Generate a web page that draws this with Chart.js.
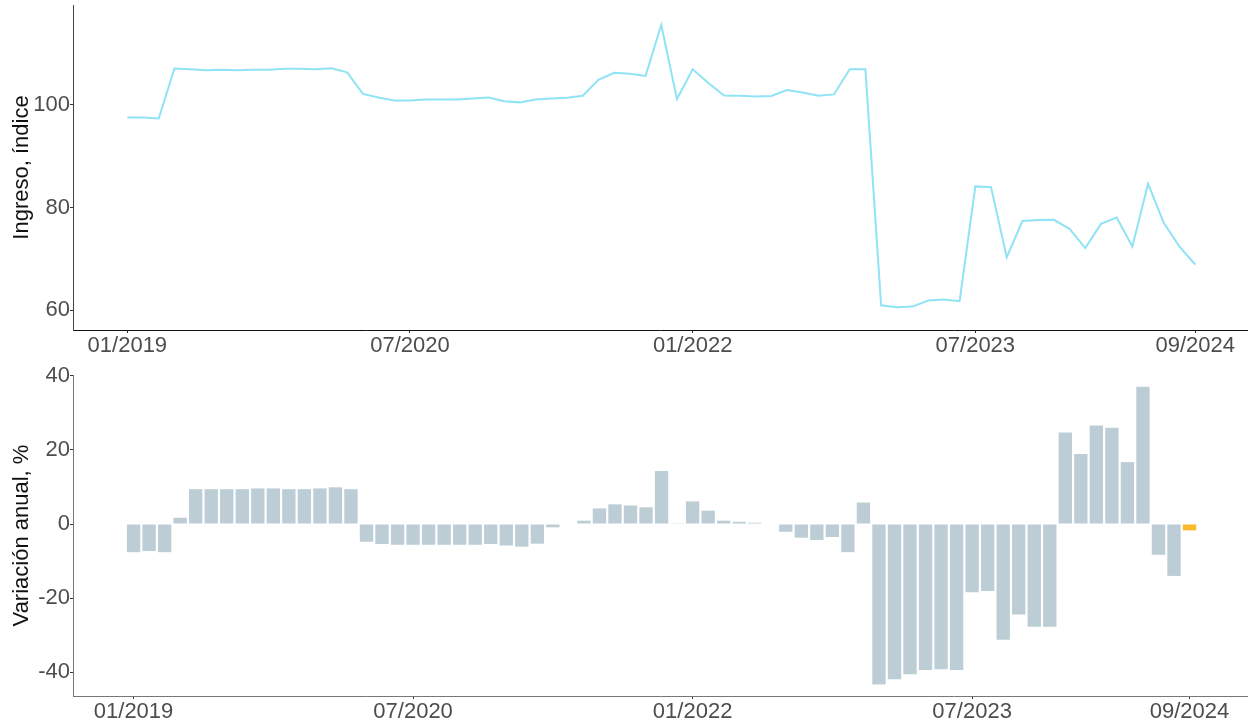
<!DOCTYPE html>
<html>
<head>
<meta charset="utf-8">
<script src="https://cdn.jsdelivr.net/npm/chart.js@4.4.1/dist/chart.umd.min.js"></script>
<style>
  body { margin: 0; background: #fff; }
  canvas { display: block; }
</style>
</head>
<body>
<canvas id="ingresoChart" width="1249" height="360"></canvas>
<canvas id="variacionChart" width="1249" height="366"></canvas>
<script>
const months = [
  '01/2019','02/2019','03/2019','04/2019','05/2019','06/2019','07/2019','08/2019','09/2019','10/2019','11/2019','12/2019',
  '01/2020','02/2020','03/2020','04/2020','05/2020','06/2020','07/2020','08/2020','09/2020','10/2020','11/2020','12/2020',
  '01/2021','02/2021','03/2021','04/2021','05/2021','06/2021','07/2021','08/2021','09/2021','10/2021','11/2021','12/2021',
  '01/2022','02/2022','03/2022','04/2022','05/2022','06/2022','07/2022','08/2022','09/2022','10/2022','11/2022','12/2022',
  '01/2023','02/2023','03/2023','04/2023','05/2023','06/2023','07/2023','08/2023','09/2023','10/2023','11/2023','12/2023',
  '01/2024','02/2024','03/2024','04/2024','05/2024','06/2024','07/2024','08/2024','09/2024'
];
const tickLabels = ['01/2019', '07/2020', '01/2022', '07/2023', '09/2024'];

const ingreso = [
  97.5, 97.5, 97.3, 107.05, 106.9, 106.7, 106.8, 106.7, 106.8, 106.8, 107.0, 107.0,
  106.9, 107.1, 106.3, 102.1, 101.4, 100.8, 100.8, 101.0, 101.0, 101.0, 101.2, 101.4,
  100.65, 100.45, 101.0, 101.2, 101.35, 101.75, 104.85, 106.2, 106.0, 105.6, 115.5, 101.1,
  106.9, 104.2, 101.8, 101.75, 101.6, 101.7, 102.85, 102.35, 101.75, 102.0, 106.9, 106.9,
  60.97, 60.6, 60.7, 61.9, 62.1, 61.75, 84.1, 83.95, 70.3, 77.35, 77.55, 77.6,
  75.85, 72.1, 76.8, 78.05, 72.4, 84.6, 77.0, 72.35, 68.9
];
const variacion = [
  -7.6, -7.3, -7.6, 1.7, 9.4, 9.4, 9.4, 9.4, 9.6, 9.6, 9.4, 9.4,
  9.6, 9.9, 9.4, -4.8, -5.4, -5.6, -5.6, -5.6, -5.6, -5.6, -5.6, -5.4,
  -5.8, -6.1, -5.3, -0.9, 0, 0.9, 4.2, 5.3, 5.0, 4.5, 14.3, 0.2,
  6.1, 3.6, 0.9, 0.6, 0.35, 0.15, -2.1, -3.7, -4.3, -3.5, -7.6, 5.8,
  -43.3, -41.9, -40.5, -39.4, -39.2, -39.4, -18.4, -18.1, -31.2, -24.4, -27.7, -27.7,
  24.7, 18.9, 26.6, 26.0, 16.7, 37.0, -8.3, -14.0, -1.7
];
const ingresoTicks = [60, 80, 100];
const variacionTicks = [-40, -20, 0, 20, 40];

const FONT = "'Liberation Sans', Arial, sans-serif";
const tickFont = { family: FONT, size: 22 };
const titleFont = { family: FONT, size: 22 };
const tickIdx = tickLabels.map(l => months.indexOf(l));

function xAxis(min, max, axisColor) {
  return {
    type: 'linear',
    offset: false,
    min: min,
    max: max,
    afterBuildTicks: scale => { scale.ticks = tickIdx.map(v => ({ value: v })); },
    afterFit: scale => {
      scale.height = 30;
      scale.paddingLeft = 0;
      scale.paddingRight = 0;
    },
    ticks: {
      font: tickFont,
      color: '#4d4d4d',
      padding: 0,
      maxRotation: 0,
      autoSkip: false,
      callback: value => months[value]
    },
    grid: { offset: false, drawOnChartArea: false, drawTicks: true, tickLength: 3, color: '#333' },
    border: { display: true, color: axisColor, width: 1 }
  };
}

function yAxis(min, max, ticks, title, axisColor) {
  return {
    min: min,
    max: max,
    afterBuildTicks: scale => { scale.ticks = ticks.map(v => ({ value: v })); },
    afterFit: scale => {
      scale.width = 73;
      scale.paddingTop = 0;
      scale.paddingBottom = 0;
    },
    ticks: { font: tickFont, color: '#4d4d4d', padding: 0 },
    grid: { drawOnChartArea: false, drawTicks: true, tickLength: 3, color: '#333' },
    border: { display: true, color: axisColor, width: 1 },
    title: { display: true, text: title, font: titleFont, color: '#111', padding: { top: 9, bottom: 0 } }
  };
}

new Chart(document.getElementById('ingresoChart'), {
  type: 'line',
  data: {
    datasets: [{
      data: ingreso.map((v, i) => ({ x: i, y: v })),
      borderColor: '#8fe3f5',
      borderWidth: 2,
      pointRadius: 0,
      tension: 0,
      fill: false
    }]
  },
  options: {
    responsive: false,
    animation: false,
    layout: { padding: { top: 5, right: 2, left: 0, bottom: 0 } },
    plugins: { legend: { display: false }, tooltip: { enabled: false } },
    scales: {
      x: xAxis(-3.46, 71.3, '#111'),
      y: yAxis(56.15, 119.4, ingresoTicks, 'Ingreso, índice', '#444')
    }
  }
});

const lastIdx = variacion.length - 1;
new Chart(document.getElementById('variacionChart'), {
  type: 'bar',
  data: {
    datasets: [{
      data: variacion.map((v, i) => ({ x: i, y: v })),
      backgroundColor: ctx => ctx.dataIndex === lastIdx ? '#fbb829' : '#bccdd5',
      borderWidth: 0,
      categoryPercentage: 1,
      barPercentage: 0.86
    }]
  },
  options: {
    responsive: false,
    animation: false,
    layout: { padding: { top: 15, right: 2, left: 0, bottom: 0 } },
    plugins: { legend: { display: false }, tooltip: { enabled: false } },
    scales: {
      x: xAxis(-3.9, 71.7, '#777'),
      y: yAxis(-46.4, 40.2, variacionTicks, 'Variación anual, %', '#777')
    }
  }
});
</script>
</body>
</html>
